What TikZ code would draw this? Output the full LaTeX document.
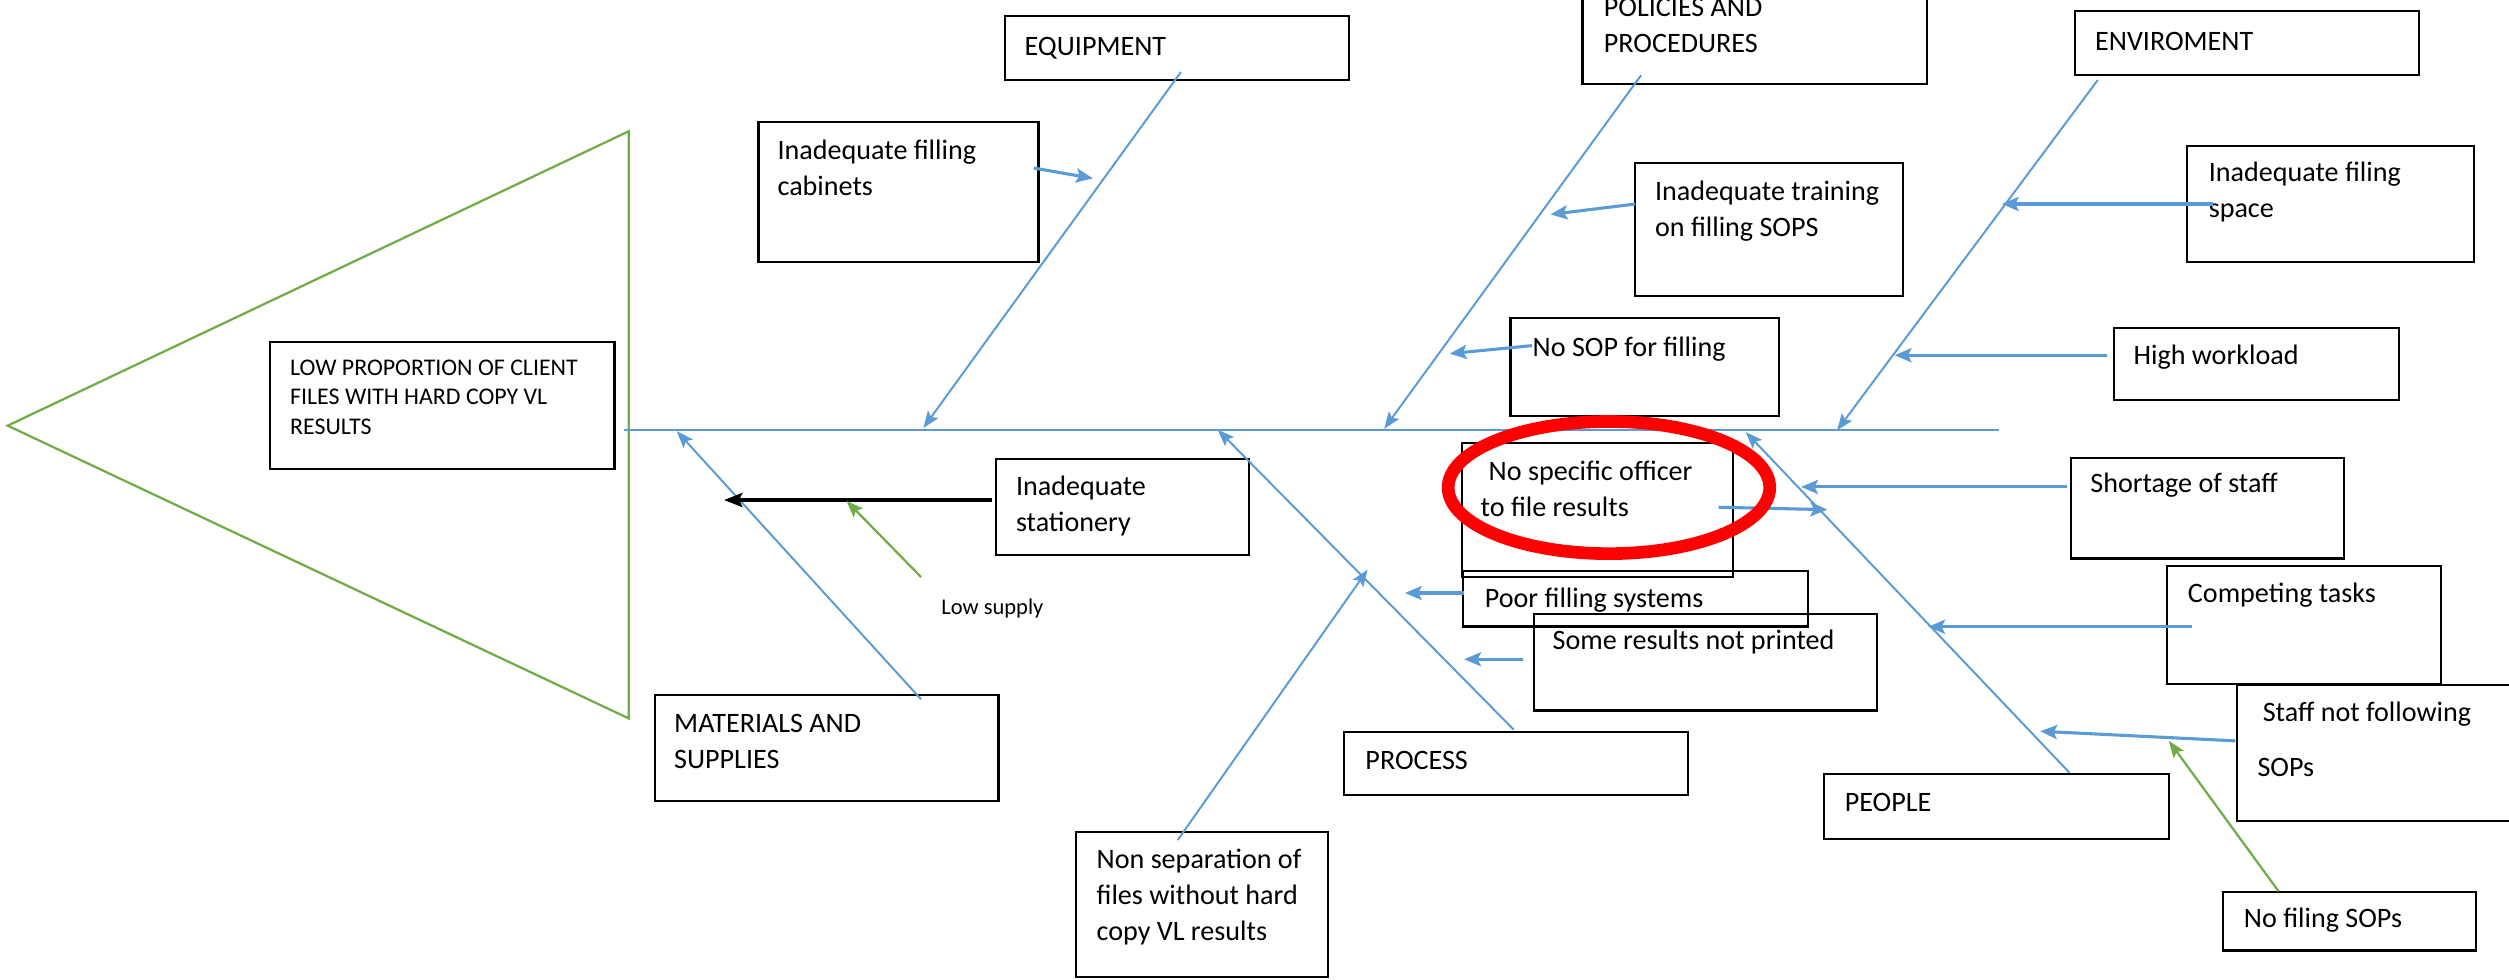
\documentclass[tikz,border=0pt]{standalone}
\usepackage{fontspec}
\setmainfont{Carlito}
\usetikzlibrary{arrows.meta,fit,calc}
\definecolor{fbblue}{RGB}{91,155,213}
\definecolor{fbgreen}{RGB}{112,173,71}
\definecolor{fbred}{RGB}{255,0,0}
\newcommand\mlines[1]{\begin{tabular}[t]{@{}l@{}}#1\end{tabular}}
\begin{document}
\begin{tikzpicture}[x=0.02cm, y=-0.02cm,
  box/.style={draw=black, line width=0.75pt, inner sep=0pt, rectangle},
  txt/.style={anchor=base west, inner sep=0pt, font=\fontsize{10}{12.8}\selectfont},
  smalltxt/.style={anchor=base west, inner sep=0pt, font=\fontsize{8.5}{10.8}\selectfont},
  tinytxt/.style={anchor=base west, inner sep=0pt, font=\fontsize{8}{10}\selectfont},
  spineline/.style={draw=fbblue, line width=0.5pt},
  bone/.style={draw=fbblue, line width=0.7pt, -{Stealth[length=6pt,width=4.5pt,inset=1.2pt]}},
  subarrow/.style={draw=fbblue, line width=1.1pt, -{Stealth[length=6pt,width=5pt,inset=1.2pt]}},
  garrow/.style={draw=fbgreen, line width=0.8pt, -{Stealth[length=6pt,width=4.5pt,inset=1.2pt]}},
  karrow/.style={draw=black, line width=1.3pt, -{Stealth[length=6.5pt,width=5pt,inset=1.2pt]}},
  headtri/.style={draw=fbgreen, line width=0.8pt},
  highlight/.style={draw=fbred, line width=4.5pt},
]
\useasboundingbox (0,0) rectangle (1568,612);
\clip (0,0) rectangle (1568,612);

% head triangle
\draw[headtri] (393,82) -- (4.8,266) -- (393,449) -- cycle;

% boxes
\node[box, fit={(169,214) (384,293)}] (head) {};
\node[box, fit={(628,10) (843,50)}] (eq) {};
\node[box, fit={(989,-20) (1204,52.5)}] (pol) {};
\node[box, fit={(1297,7) (1512,47)}] (env) {};
\node[box, fit={(474,76.5) (649,164)}] (cab) {};
\node[box, fit={(1022,102) (1189,185)}] (trn) {};
\node[box, fit={(1367,91) (1546,164)}] (fsp) {};
\node[box, fit={(944,199) (1112,260)}] (nsop) {};
\node[box, fit={(1321,205) (1499,250)}] (hwl) {};
\node[box, fit={(913.4,277) (1083,360.6)}] (nso) {};
\node[box, fit={(1294,286) (1465,349)}] (sho) {};
\node[box, fit={(914.4,357) (1130,391.5)}] (pfs) {};
\node[box, fit={(958.4,383.8) (1173,444)}] (srp) {};
\node[box, fit={(1354.5,353.6) (1525.4,427.4)}] (cmp) {};
\node[box, fit={(1398,428) (1590,513)}] (snf) {};
\node[box, fit={(1140,483.6) (1355.4,524.4)}] (ppl) {};
\node[box, fit={(1389.4,557.5) (1547.5,594)}] (nfs) {};
\node[box, fit={(840,457.5) (1055,497)}] (prc) {};
\node[box, fit={(409.5,434.5) (624,500.5)}] (mat) {};
\node[box, fit={(622.5,287) (780.6,347)}] (sta) {};
\node[box, fit={(672.5,520) (829.8,610.6)}] (nsep) {};

% texts
\node[smalltxt] (headT) at (181,234.5) {\mlines{LOW PROPORTION OF CLIENT\\[-0.3pt]FILES WITH HARD COPY VL\\[-0.3pt]RESULTS}};
\node[txt] (eqT) at (640,34.4) {EQUIPMENT};
\node[txt] (polT) at (1002,10.4) {\mlines{POLICIES AND\\PROCEDURES}};
\node[txt] (envT) at (1309,31.3) {ENVIROMENT};
\node[txt] (cabT) at (485.6,99.6) {\mlines{Inadequate filling\\cabinets}};
\node[txt] (trnT) at (1034,125) {\mlines{Inadequate training\\on filling SOPS}};
\node[txt] (fspT) at (1380,113.5) {\mlines{Inadequate filing\\space}};
\node[txt] (nsopT) at (957.5,222.5) {No SOP for filling};
\node[txt] (hwlT) at (1333,227.5) {High workload};
\node[txt] (nsoT) at (925,300) {\mlines{\hspace{0.1cm}No specific officer\\to file results}};
\node[txt] (shoT) at (1306,308) {Shortage of staff};
\node[txt] (pfsT) at (927.6,379.4) {Poor filling systems};
\node[txt] (srpT) at (970,406) {Some results not printed};
\node[txt] (cmpT) at (1367,376.7) {Competing tasks};
\node[txt] (snfT) at (1410.5,451) {\mlines{\hspace{0.065cm}Staff not following\\[0.24cm]SOPs}};
\node[txt] (pplT) at (1152.6,507) {PEOPLE};
\node[txt] (nfsT) at (1402,579.4) {No filing SOPs};
\node[txt] (prcT) at (853,481) {PROCESS};
\node[txt] (matT) at (421,458) {\mlines{MATERIALS AND\\SUPPLIES}};
\node[txt] (staT) at (634.6,309.5) {\mlines{Inadequate\\stationery}};
\node[txt] (nsepT) at (685,542.5) {\mlines{Non separation of\\files without hard\\copy VL results}};
\node[tinytxt] (lowT) at (588,384) {Low supply};

% spine
\coordinate (spL) at (390,268.8);
\coordinate (spR) at (1249,268.8);
\draw[spineline] (spL) -- (spR);

% bone end points
\coordinate (eqA) at (738,45);     \coordinate (eqB) at (577,267.5);
\coordinate (polA) at (1025.6,47); \coordinate (polB) at (865,268);
\coordinate (envA) at (1311,50);   \coordinate (envB) at (1148,269);
\coordinate (matA) at (575.6,437); \coordinate (matB) at (423,269.5);
\coordinate (prcA) at (946,456);   \coordinate (prcB) at (761,268.5);
\coordinate (pplA) at (1293.4,483);\coordinate (pplB) at (1091,270);
\coordinate (nsepA) at (736,525);  \coordinate (nsepB) at (854.7,356);

\draw[bone] (eqA) -- (eqB);
\draw[bone] (polA) -- (polB);
\draw[bone] (envA) -- (envB);
\draw[bone] (matA) -- (matB);
\draw[bone] (prcA) -- (prcB);
\draw[bone] (pplA) -- (pplB);
\draw[bone] (nsepA) -- (nsepB);

% cause arrows
\coordinate (cabA) at (646,105);     \coordinate (cabB) at (683,111.5);
\coordinate (trnA) at (1022,127.5);  \coordinate (trnB) at (969,134);
\coordinate (nsopA) at (957.5,216);  \coordinate (nsopB) at (906,221);
\coordinate (fspA) at (1383,127.5);  \coordinate (fspB) at (1251,127.5);
\coordinate (hwlA) at (1317,222);    \coordinate (hwlB) at (1184,222);
\coordinate (shoA) at (1292,304.3);  \coordinate (shoB) at (1125.6,304.3);
\coordinate (nsoA) at (1074,317);    \coordinate (nsoB) at (1142,318.5);
\coordinate (pfsA) at (915,370.6);   \coordinate (pfsB) at (878,370.6);
\coordinate (srpA) at (952,412);     \coordinate (srpB) at (915,412);
\coordinate (cmpA) at (1370,391.7);  \coordinate (cmpB) at (1205,391.7);
\coordinate (snfA) at (1397,463);    \coordinate (snfB) at (1275,457);
\coordinate (nfsA) at (1424,557);    \coordinate (nfsB) at (1355.4,463);
\coordinate (staA) at (620,312.5);   \coordinate (staB) at (452.5,312.5);
\coordinate (lowA) at (575.6,360.6); \coordinate (lowB) at (529,313);

\draw[subarrow] (cabA) -- (cabB);
\draw[subarrow] (trnA) -- (trnB);
\draw[subarrow] (nsopA) -- (nsopB);
\draw[subarrow] (fspA) -- (fspB);
\draw[subarrow] (hwlA) -- (hwlB);
\draw[subarrow] (shoA) -- (shoB);
\draw[subarrow] (nsoA) -- (nsoB);
\draw[subarrow] (pfsA) -- (pfsB);
\draw[subarrow] (srpA) -- (srpB);
\draw[subarrow] (cmpA) -- (cmpB);
\draw[subarrow] (snfA) -- (snfB);
\draw[garrow] (nfsA) -- (nfsB);
\draw[karrow] (staA) -- (staB);
\draw[garrow] (lowA) -- (lowB);

% highlight ellipse
\draw[highlight] (1005.5,304.7) ellipse [x radius=100.5, y radius=41.3];
\end{tikzpicture}
\end{document}
